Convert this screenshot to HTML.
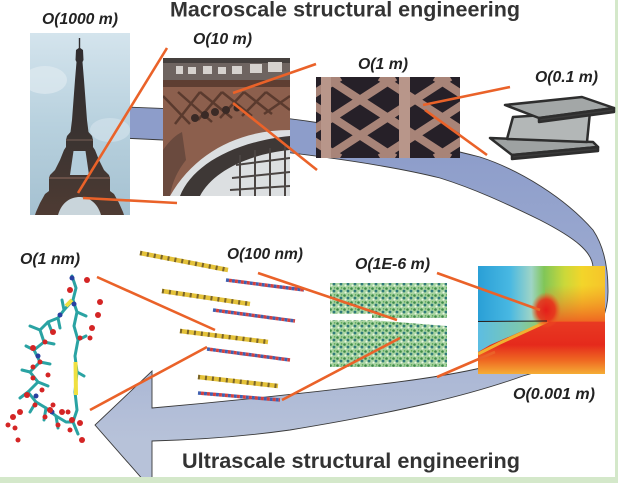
<!DOCTYPE html>
<html><head><meta charset="utf-8"><style>
html,body{margin:0;padding:0;width:618px;height:483px;overflow:hidden;background:#fff}
svg{display:block}
text{font-family:"Liberation Sans",Arial,sans-serif}
</style></head><body>
<svg width="618" height="483" viewBox="0 0 618 483" xmlns="http://www.w3.org/2000/svg">
<defs>
 <linearGradient id="band" gradientUnits="userSpaceOnUse" x1="0" y1="150" x2="0" y2="440">
  <stop offset="0" stop-color="#8d9dca"/><stop offset="0.5" stop-color="#9eacd1"/><stop offset="1" stop-color="#b7c2d9"/>
 </linearGradient>
 <linearGradient id="sky" x1="0" y1="0" x2="0" y2="1">
  <stop offset="0" stop-color="#d4e4ed"/><stop offset="0.5" stop-color="#b8d1de"/><stop offset="1" stop-color="#a5c1d1"/>
 </linearGradient>
 <linearGradient id="tower" x1="0" y1="0" x2="0" y2="1">
  <stop offset="0" stop-color="#2f2c2f"/><stop offset="0.6" stop-color="#3c3431"/><stop offset="1" stop-color="#4e3b33"/>
 </linearGradient>
 <linearGradient id="ctop" gradientUnits="userSpaceOnUse" x1="478" y1="0" x2="605" y2="0">
  <stop offset="0" stop-color="#2a9fd6"/><stop offset="0.25" stop-color="#48b8e2"/><stop offset="0.42" stop-color="#9ed4c6"/>
  <stop offset="0.52" stop-color="#80c658"/><stop offset="0.68" stop-color="#cad83a"/><stop offset="0.82" stop-color="#f3d52a"/><stop offset="1" stop-color="#f6c42a"/>
 </linearGradient>
 <linearGradient id="cbot" gradientUnits="userSpaceOnUse" x1="0" y1="321" x2="0" y2="374">
  <stop offset="0" stop-color="#e83a22"/><stop offset="0.45" stop-color="#e52a1c"/><stop offset="0.75" stop-color="#ef6a22"/><stop offset="1" stop-color="#f5ad35"/>
 </linearGradient>
 <linearGradient id="cwedge" gradientUnits="userSpaceOnUse" x1="478" y1="0" x2="548" y2="0">
  <stop offset="0" stop-color="#5cbde2"/><stop offset="0.6" stop-color="#7cc8b0"/><stop offset="1" stop-color="#9acb50"/>
 </linearGradient>
 <linearGradient id="corg" x1="0" y1="0" x2="0" y2="1">
  <stop offset="0" stop-color="#f08020" stop-opacity="0"/><stop offset="1" stop-color="#ee5a20" stop-opacity="0.9"/>
 </linearGradient>
 <radialGradient id="cred" cx="0.5" cy="0.5" r="0.5">
  <stop offset="0" stop-color="#e41e1a"/><stop offset="0.6" stop-color="#e8321c" stop-opacity="0.9"/><stop offset="1" stop-color="#f06020" stop-opacity="0"/>
 </radialGradient>
 <pattern id="spk" width="7" height="7" patternUnits="userSpaceOnUse">
  <rect width="7" height="7" fill="#a9d4a2"/>
  <circle cx="1.5" cy="1.5" r="1.3" fill="#3d8a4a"/>
  <circle cx="5" cy="4" r="1.4" fill="#2f7a7a"/>
  <circle cx="2.5" cy="5.5" r="1" fill="#eaf5e2"/>
  <circle cx="5.6" cy="0.9" r="0.9" fill="#62ac5a"/>
 </pattern>
 <clipPath id="c1"><rect x="30" y="33" width="100" height="182"/></clipPath>
 <clipPath id="c2"><rect x="163" y="58" width="127" height="138"/></clipPath>
 <clipPath id="c3"><rect x="316" y="77" width="144" height="81"/></clipPath>
 <clipPath id="c4"><rect x="478" y="266" width="127" height="108"/></clipPath>
</defs>

<rect width="618" height="483" fill="#fff"/>

<!-- loop band with arrow -->
<path d="M60,106 C150,106 250,112 320,123 C390,135 440,147 480,157 C520,170 565,198 593,230 C603,245 608,265 608,290 C609,335 570,363 523,376 C470,395 400,412 290,430 C240,437 190,440 152,441 L152,490 L95,425 L152,371 L152,408 C220,402 300,394 390,383 C430,378 460,373 485,367 C540,352 592,315 593,268 C593,252 575,238 540,220 C505,203 475,189 440,178 C380,163 280,150 163,140 L60,135 Z" fill="url(#band)" stroke="#3a3a3a" stroke-width="0.9"/>

<!-- frame -->
<rect x="615" y="0" width="3" height="483" fill="#d4e8ca"/>
<rect x="0" y="477" width="618" height="6" fill="#d4e8ca"/>

<!-- Eiffel photo -->
<g clip-path="url(#c1)">
 <rect x="30" y="33" width="100" height="182" fill="url(#sky)"/>
 <ellipse cx="45" cy="80" rx="22" ry="14" fill="#e2edf2" opacity="0.6"/>
 <ellipse cx="110" cy="130" rx="20" ry="12" fill="#dbe8ef" opacity="0.5"/>
 <polygon fill="url(#tower)" points="80.2,38 80.2,48 83,50 83.5,60 82.5,62 84,80 85.5,100 87,120 88.5,132 92,136 93,140 93,147 95,150 99,160 104,170 109,175 110,178 110,191 114,194 119,203 123,212 124,215 35,215 36,212 40,203 45,194 49,191 49,178 50,175 55,170 60,160 64,150 66,147 66,140 67,136 70.5,132 72,120 73.5,100 75,80 76.5,62 75.5,60 76,50 78.8,48 78.8,38"/>
 <polygon points="73.5,151 85.5,151 89,175 70,175" fill="#b3cddb"/>
 <path d="M58,215 C62,201 72,197 79.5,197 C87,197 97,201 101,215 Z" fill="#c9d5db"/>
 <rect x="49" y="177" width="61" height="2" fill="#6a5148"/>
 <rect x="66" y="139" width="27" height="2" fill="#5a4a44"/>
</g>

<!-- photo 2 -->
<g clip-path="url(#c2)">
 <rect x="163" y="58" width="127" height="138" fill="#dcdfe1"/>
 <path d="M163,58 H290 V130 C240,130 195,152 170,196 H163 Z" fill="#8c5f4d"/>
 <rect x="163" y="58" width="127" height="24" fill="#6e6460"/>
 <rect x="163" y="58" width="127" height="5" fill="#45403e"/>
 <g fill="#d6d2ce"><rect x="176" y="66" width="7" height="8"/><rect x="188" y="67" width="8" height="7"/><rect x="203" y="66" width="9" height="8"/><rect x="218" y="67" width="8" height="7"/><rect x="232" y="66" width="10" height="8"/><rect x="250" y="64" width="12" height="9"/><rect x="268" y="62" width="14" height="10"/></g>
 <rect x="163" y="80" width="127" height="7" fill="#5e3e32"/>
 <g stroke="#5a3a2e" stroke-width="2.5">
  <path d="M163,96 L190,124 M178,92 L212,122 M200,92 L232,118 M222,92 L252,116 M244,92 L272,114 M266,92 L290,110"/>
  <path d="M175,124 L200,92 M198,120 L222,92 M220,118 L244,92 M242,116 L266,92 M264,114 L290,96"/>
 </g>
 <g fill="#3a2a26"><circle cx="195" cy="118" r="4"/><circle cx="205" cy="115" r="4"/><circle cx="215" cy="112" r="4"/><circle cx="226" cy="110" r="4"/><circle cx="237" cy="108" r="3.5"/></g>
 <path d="M163,150 C170,140 176,135 182,132 L186,160 C178,170 172,182 170,196 H163 Z" fill="#6a4a3e"/>
 <path d="M180,196 C192,166 232,142 290,136 L290,150 C248,154 212,172 200,196 Z" fill="#3e3836"/>
 <g stroke="#4a4442" stroke-width="2"><path d="M240,155 L240,196 M255,150 L255,196 M270,148 L270,196 M285,146 L285,196 M236,165 L290,158 M232,178 L290,172 M230,190 L290,186"/></g>
</g>

<!-- photo 3 -->
<g clip-path="url(#c3)">
 <rect x="316" y="77" width="144" height="81" fill="#262028"/>
 <g stroke="#a88478" stroke-width="8">
  <path d="M215,77 L340,158 M270,77 L395,158 M325,77 L450,158 M380,77 L505,158 M435,77 L560,158"/>
  <path d="M340,77 L215,158 M395,77 L270,158 M450,77 L325,158 M505,77 L380,158 M560,77 L435,158"/>
 </g>
 <rect x="321" y="77" width="10" height="81" fill="#b8968a"/>
 <rect x="399" y="77" width="11" height="81" fill="#b8968a"/>
</g>

<!-- I-beam -->
<g stroke="#2e2e2e" stroke-width="2.5" stroke-linejoin="round">
 <polygon points="490,138 593,142 598,147 512,155" fill="#9ea2a2"/>
 <polygon points="512,155 598,147 598,151 512,159" fill="#3a3a3a"/>
 <polygon points="513,117 590,112 587,142 507,139" fill="#b3b7b7"/>
 <polygon points="505,105 582,97 614,108 539,118" fill="#a3a7a7"/>
 <polygon points="539,118 614,108 614,112 539,122" fill="#3a3a3a"/>
</g>

<!-- molecule -->
<g stroke="#2aa3a3" stroke-width="3" fill="none" stroke-linecap="round" stroke-linejoin="round">
 <path d="M72,276 L76,288 L73,300 L77,312 L74,326 L78,340 L75,356 L77,372 L75,392 L77,410 L73,422 L78,434"/>
 <path d="M73,300 L64,310 L58,318 L48,322 L40,330 L44,342 L34,350 L40,362 L30,372 L38,382 L28,392 L36,402 L46,408 L56,416 L66,422 L73,422"/>
 <path d="M48,322 L52,332 M40,330 L30,326 M44,342 L54,344 M34,350 L26,346 M40,362 L50,364 M30,372 L22,370 M38,382 L48,386 M28,392 L20,398 M36,402 L30,412 M46,408 L44,420 M56,416 L58,428 M64,310 L62,300 M77,312 L86,316 M78,340 L86,336 M77,372 L84,376 M58,318 L60,328"/>
</g>
<path d="M66,306 L72,300" stroke="#f0e040" stroke-width="4"/>
<path d="M75.5,362 L76,395" stroke="#f0e040" stroke-width="4"/>
<g fill="#2840a0"><circle cx="72" cy="278" r="2.5"/><circle cx="60" cy="315" r="2.5"/><circle cx="38" cy="356" r="2.5"/><circle cx="36" cy="396" r="2.5"/><circle cx="52" cy="412" r="2.5"/><circle cx="74" cy="304" r="2.5"/></g>
<g fill="#d42525">
 <circle cx="70" cy="290" r="3"/><circle cx="87" cy="280" r="3"/><circle cx="100" cy="302" r="3"/><circle cx="98" cy="315" r="3"/><circle cx="92" cy="328" r="3"/><circle cx="90" cy="338" r="2.5"/><circle cx="80" cy="338" r="2.5"/><circle cx="53" cy="332" r="3"/><circle cx="45" cy="342" r="2.5"/><circle cx="33" cy="348" r="3"/><circle cx="40" cy="362" r="2.5"/><circle cx="33" cy="367" r="2.5"/><circle cx="48" cy="375" r="2.5"/><circle cx="33" cy="378" r="2.5"/><circle cx="27" cy="395" r="3"/><circle cx="42" cy="390" r="2.5"/><circle cx="20" cy="412" r="3"/><circle cx="13" cy="417" r="3"/><circle cx="8" cy="425" r="2.5"/><circle cx="15" cy="428" r="2.5"/><circle cx="35" cy="405" r="2.5"/><circle cx="50" cy="410" r="3"/><circle cx="62" cy="412" r="3"/><circle cx="68" cy="412" r="2.5"/><circle cx="72" cy="420" r="3"/><circle cx="80" cy="423" r="3"/><circle cx="70" cy="430" r="2.5"/><circle cx="82" cy="440" r="3"/><circle cx="58" cy="425" r="2.5"/><circle cx="45" cy="417" r="2.5"/><circle cx="53" cy="405" r="2.5"/><circle cx="18" cy="440" r="2.5"/>
</g>

<!-- proteins -->
<g stroke-width="4.5" fill="none">
 <g stroke="#e4c23a"><path d="M140,253 L228,270"/><path d="M162,291 L250,304"/><path d="M180,331 L268,342"/><path d="M198,377 L278,386"/></g>
 <g stroke="#7a6428" stroke-dasharray="2 5"><path d="M140,253 L228,270"/><path d="M162,291 L250,304"/><path d="M180,331 L268,342"/><path d="M198,377 L278,386"/></g>
 <g stroke="#4060b0" stroke-width="3.5" stroke-dasharray="3 3"><path d="M226,280 L304,290"/><path d="M213,310 L295,321"/><path d="M207,349 L290,360"/><path d="M198,393 L280,400"/></g>
 <g stroke="#d04040" stroke-width="3.5" stroke-dasharray="3 3" stroke-dashoffset="3"><path d="M226,280 L304,290"/><path d="M213,310 L295,321"/><path d="M207,349 L290,360"/><path d="M198,393 L280,400"/></g>
</g>

<!-- green block -->
<path d="M330,283 L447,283 L447,318 L372,318 L372,314 L330,314 Z" fill="url(#spk)"/>
<path d="M330,320 L372,320 L447,326 L447,367 L330,367 Z" fill="url(#spk)"/>

<!-- contour -->
<g clip-path="url(#c4)">
 <rect x="478" y="266" width="127" height="108" fill="url(#ctop)"/>
 <rect x="478" y="321" width="127" height="53" fill="url(#cbot)"/>
 <polygon points="478,322 548,321 520,332 490,345 478,352" fill="url(#cwedge)"/>
 <path d="M478,354 L500,343 L548,321" stroke="#f0b030" stroke-width="3" fill="none"/>
 <rect x="545" y="285" width="60" height="37" fill="url(#corg)"/>
 <ellipse cx="546" cy="310" rx="15" ry="18" fill="url(#cred)"/>
 <line x1="478" y1="321.5" x2="547" y2="321" stroke="#222" stroke-width="1"/>
</g>

<!-- orange connector lines -->
<g stroke="#ea6229" stroke-width="2.6" fill="none">
 <path d="M78,193 L167,48"/>
 <path d="M83,198 L177,203"/>
 <path d="M233,93 L316,64"/>
 <path d="M233,103 L317,170"/>
 <path d="M423,105 L510,87"/>
 <path d="M425,110 L487,155"/>
 <path d="M97,277 L215,330"/>
 <path d="M90,410 L207,347"/>
 <path d="M258,273 L397,320"/>
 <path d="M282,400 L400,338"/>
 <path d="M437,273 L540,310"/>
 <path d="M437,377 L495,352"/>
</g>

<!-- titles -->
<text x="170" y="16.5" font-size="21.5" font-weight="bold" fill="#333" textLength="350" lengthAdjust="spacingAndGlyphs">Macroscale structural engineering</text>
<text x="182" y="468" font-size="21.5" font-weight="bold" fill="#333" textLength="338" lengthAdjust="spacingAndGlyphs">Ultrascale structural engineering</text>

<!-- labels -->
<g font-size="15.5" font-weight="bold" font-style="italic" fill="#222">
 <text x="42" y="24" textLength="76" lengthAdjust="spacingAndGlyphs">O(1000 m)</text>
 <text x="193" y="44" textLength="59" lengthAdjust="spacingAndGlyphs">O(10 m)</text>
 <text x="358" y="69" textLength="50" lengthAdjust="spacingAndGlyphs">O(1 m)</text>
 <text x="535" y="82" textLength="63" lengthAdjust="spacingAndGlyphs">O(0.1 m)</text>
 <text x="20" y="264" textLength="60" lengthAdjust="spacingAndGlyphs">O(1 nm)</text>
 <text x="227" y="259" textLength="76" lengthAdjust="spacingAndGlyphs">O(100 nm)</text>
 <text x="355" y="269" textLength="75" lengthAdjust="spacingAndGlyphs">O(1E-6 m)</text>
 <text x="513" y="399" textLength="82" lengthAdjust="spacingAndGlyphs">O(0.001 m)</text>
</g>
</svg>
</body></html>
